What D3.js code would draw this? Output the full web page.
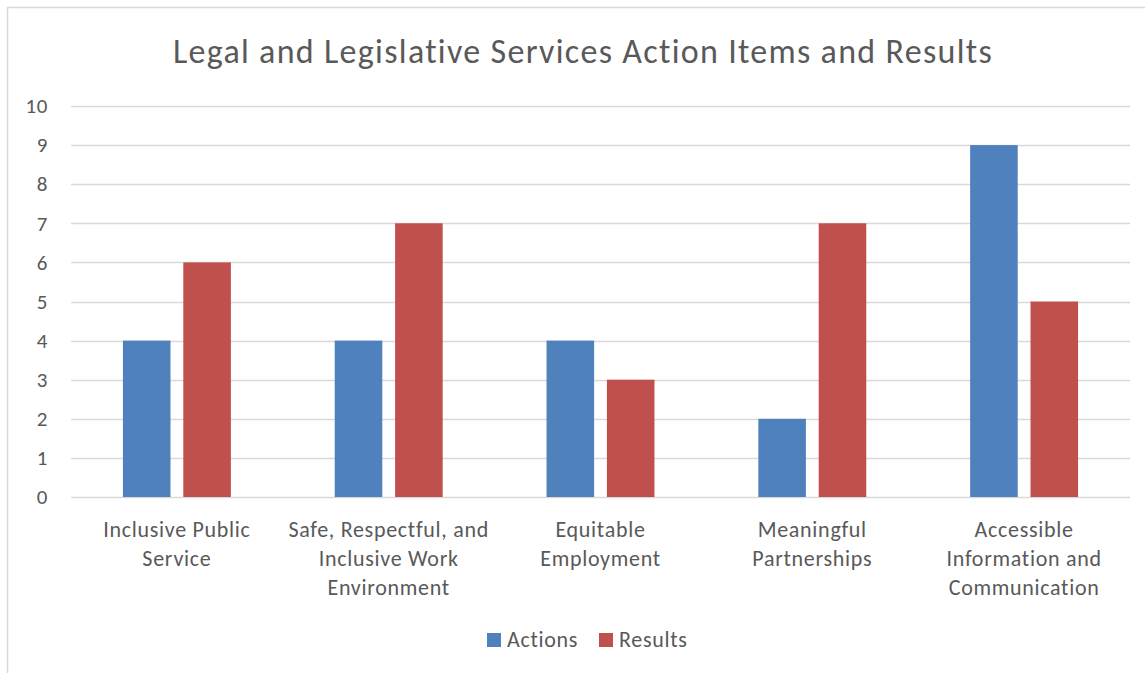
<!DOCTYPE html>
<html>
<head>
<meta charset="utf-8">
<script src="https://cdn.jsdelivr.net/npm/d3@7"></script>
<style>
  html, body { margin: 0; padding: 0; background: #fff; }
  svg text { font-family: Carlito, Lato, "Open Sans", sans-serif; fill: #595959; }
</style>
</head>
<body>
<svg id="chart" width="1145" height="673"></svg>
<script>
const title = "Legal and Legislative Services Action Items and Results";
const categories = [
  ["Inclusive Public", "Service"],
  ["Safe, Respectful, and", "Inclusive Work", "Environment"],
  ["Equitable", "Employment"],
  ["Meaningful", "Partnerships"],
  ["Accessible", "Information and", "Communication"]
];
const seriesNames = ["Actions", "Results"];
const actions = [4, 4, 4, 2, 9];
const results = [6, 7, 3, 7, 5];
const yTicks = [0, 1, 2, 3, 4, 5, 6, 7, 8, 9, 10];
const colors = ["#4f81bd", "#c0504d"];

const svg = d3.select("#chart");
const W = 1145, H = 673;
const plot = { left: 71, right: 1130, top: 106, bottom: 497 };

// chart area border
svg.append("rect")
  .attr("x", 7.5).attr("y", 7.5)
  .attr("width", W + 10).attr("height", H + 10)
  .attr("fill", "none").attr("stroke", "#d9d9d9").attr("stroke-width", 1.5);

svg.append("text")
  .attr("x", 583).attr("y", 63)
  .attr("text-anchor", "middle")
  .style("font-size", "34px")
  .style("letter-spacing", "1.3px")
  .text(title);

const keys = categories.map((c, i) => i);
const x0 = d3.scaleBand().domain(keys).range([plot.left, plot.right]).padding(0);
const x1 = d3.scaleBand().domain(seriesNames).range([0, x0.bandwidth()])
  .paddingInner(0.212).paddingOuter(0.86);
const y = d3.scaleLinear().domain([0, 10]).range([plot.bottom, plot.top]);

// gridlines
svg.append("g").selectAll("line").data(yTicks).join("line")
  .attr("x1", plot.left).attr("x2", plot.right)
  .attr("y1", d => Math.round(y(d)) + 0.5).attr("y2", d => Math.round(y(d)) + 0.5)
  .attr("stroke", "#d9d9d9").attr("stroke-width", 1.5);

// y axis labels
const yAxis = d3.axisLeft(y).tickValues(yTicks).tickSize(0).tickPadding(0);
const yg = svg.append("g").attr("transform", `translate(${plot.left - 23},0)`).call(yAxis);
yg.select(".domain").remove();
yg.selectAll("text").style("font-size", "21px").style("letter-spacing", "0.6px")
  .attr("fill", "#595959")
  .style("font-family", "Carlito, Lato, 'Open Sans', sans-serif");

// bars
const data = keys.map(i => ({ i, vals: [actions[i], results[i]] }));
const groups = svg.append("g").selectAll("g").data(data).join("g")
  .attr("transform", d => `translate(${x0(d.i)},0)`);
groups.selectAll("rect").data(d => d.vals.map((v, k) => ({ k, v }))).join("rect")
  .attr("x", d => x1(seriesNames[d.k]))
  .attr("width", x1.bandwidth())
  .attr("y", d => y(d.v))
  .attr("height", d => y(0) - y(d.v))
  .attr("fill", d => colors[d.k]);

// category labels
const xl = svg.append("g");
categories.forEach((lines, i) => {
  const cx = x0(i) + x0.bandwidth() / 2;
  const t = xl.append("text")
    .attr("x", cx)
    .attr("y", 537)
    .attr("text-anchor", "middle")
    .style("font-size", "22px")
    .style("letter-spacing", "0.7px");
  lines.forEach((ln, j) => t.append("tspan")
    .attr("x", cx)
    .attr("dy", j === 0 ? 0 : 29).text(ln));
});

// legend
const legend = svg.append("g");
const legendX = [487, 599];
seriesNames.forEach((s, k) => {
  legend.append("rect").attr("x", legendX[k]).attr("y", 633)
    .attr("width", 14).attr("height", 14).attr("fill", colors[k]);
  legend.append("text").attr("x", legendX[k] + 20).attr("y", 647)
    .style("font-size", "22px").style("letter-spacing", "0.7px").text(s);
});
</script>
</body>
</html>
